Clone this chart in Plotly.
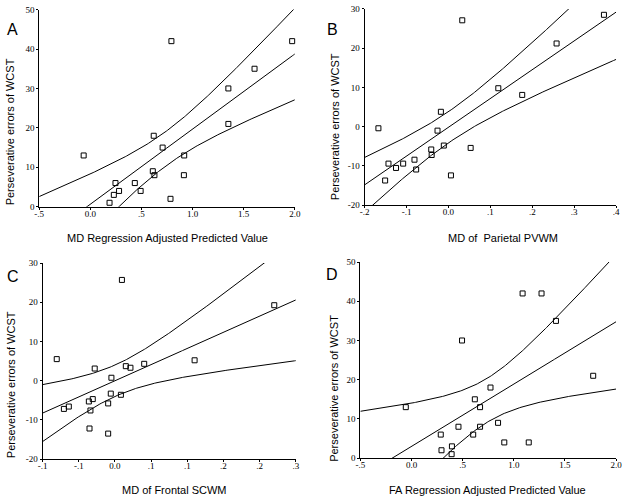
import numpy as np
import plotly.graph_objects as go

# ---- data ----
a_x = [-0.065, 0.188, 0.230, 0.246, 0.281, 0.435, 0.492, 0.611, 0.620, 0.627,
       0.707, 0.784, 0.793, 0.918, 0.915, 1.350, 1.350, 1.606, 1.974]
a_y = [13, 1, 3, 6, 4, 6, 4, 9, 18, 8, 15, 2, 42, 13, 8, 30, 21, 35, 42]

b_x = [-0.167, -0.151, -0.143, -0.125, -0.108, -0.081, -0.077, -0.041, -0.040, -0.026,
       -0.018, -0.011, 0.006, 0.033, 0.053, 0.119, 0.176, 0.258, 0.371]
b_y = [-0.4, -13.7, -9.4, -10.5, -9.4, -8.4, -10.9, -5.8, -7.2, -1.0,
       3.8, -4.8, -12.4, 27.1, -5.4, 9.8, 8.1, 21.2, 28.5]

c_x = [-0.0805, -0.0706, -0.0638, -0.0361, -0.0352, -0.0339, -0.0307, -0.0280, -0.0094, -0.0094,
       -0.0058, -0.0049, 0.0082, 0.0096, 0.0150, 0.0214, 0.0404, 0.1101, 0.2202]
c_y = [5.5, -7.2, -6.6, -5.3, -12.2, -7.6, -4.7, 3.1, -5.8, -13.5,
       -3.3, 0.75, -3.6, 25.7, 3.7, 3.3, 4.3, 5.2, 19.25]

d_x = [-0.056, 0.286, 0.293, 0.395, 0.392, 0.459, 0.494, 0.603, 0.619, 0.670,
       0.670, 0.772, 0.846, 0.907, 1.086, 1.146, 1.271, 1.412, 1.776]
d_y = [13, 6, 2, 3, 1, 8, 30, 6, 15, 13, 8, 18, 9, 4, 42, 4, 42, 35, 21]

a_xticks = [-0.5, 0.0, 0.5, 1.0, 1.5, 2.0]
a_xtext = ["-.5", "0.0", ".5", "1.0", "1.5", "2.0"]
b_xticks = [-0.2, -0.1, 0.0, 0.1, 0.2, 0.3, 0.4]
b_xtext = ["-.2", "-.1", "0.0", ".1", ".2", ".3", ".4"]
c_xticks = [-0.10, -0.05, 0.0, 0.05, 0.10, 0.15, 0.20, 0.25]
c_xtext = ["-.1", "-.1", "0.0", ".1", ".1", ".2", ".2", ".3"]
d_xticks = a_xticks
d_xtext = a_xtext
y_ticks_ad = [0, 10, 20, 30, 40, 50]
y_ticks_bc = [-20, -10, 0, 10, 20, 30]

W, H = 628, 503
SERIF = "Times New Roman, Liberation Serif, serif"
SANS = "Arial, Liberation Sans, sans-serif"

panels = [
    dict(x=a_x, y=a_y, xr=[-0.5, 2.0], yr=[0, 50], xt=a_xticks, xl=a_xtext, yt=y_ticks_ad,
         dx=[34.8, 295.0], dy=[4.7, 205.8], letter="A", lpos=(8, 25),
         xtitle="MD Regression Adjusted Predicted Value", xtpos=(165, 238), ytpos=(6, 129)),
    dict(x=b_x, y=b_y, xr=[-0.2, 0.4], yr=[-20, 30], xt=b_xticks, xl=b_xtext, yt=y_ticks_bc,
         dx=[366.0, 622.0], dy=[4.0, 204.3], letter="B", lpos=(333, 25),
         xtitle="MD of  Parietal PVWM", xtpos=(507, 238), ytpos=(335.5, 124)),
    dict(x=c_x, y=c_y, xr=[-0.10, 0.25], yr=[-20, 30], xt=c_xticks, xl=c_xtext, yt=y_ticks_bc,
         dx=[38.3, 296.0], dy=[263.3, 463.3], letter="C", lpos=(8, 277),
         xtitle="MD of Frontal SCWM", xtpos=(173, 495), ytpos=(6, 387)),
    dict(x=d_x, y=d_y, xr=[-0.5, 2.0], yr=[0, 50], xt=d_xticks, xl=d_xtext, yt=y_ticks_ad,
         dx=[361.7, 622.0], dy=[262.3, 462.3], letter="D", lpos=(333, 275),
         xtitle="FA Regression Adjusted Predicted Value", xtpos=(491, 495), ytpos=(335.5, 391)),
]

T975_17 = 2.1098

fig = go.Figure()
annotations = []
line_style = dict(color="black", width=1)

for i, p in enumerate(panels, start=1):
    xa = "x" if i == 1 else f"x{i}"
    ya = "y" if i == 1 else f"y{i}"
    x = np.array(p["x"], float)
    y = np.array(p["y"], float)
    n = len(x)
    b1, b0 = np.polyfit(x, y, 1)
    resid = y - (b0 + b1 * x)
    s = np.sqrt(np.sum(resid ** 2) / (n - 2))
    sxx = np.sum((x - x.mean()) ** 2)
    xs = np.linspace(p["xr"][0], p["xr"][1], 200)
    yh = b0 + b1 * xs
    se = s * np.sqrt(1.0 / n + (xs - x.mean()) ** 2 / sxx)
    for yy in (yh + T975_17 * se, yh, yh - T975_17 * se):
        fig.add_trace(go.Scatter(x=xs, y=yy, mode="lines", line=line_style,
                                 xaxis=xa, yaxis=ya, showlegend=False, hoverinfo="skip"))
    fig.add_trace(go.Scatter(x=x, y=y, mode="markers",
                             marker=dict(symbol="square-open", size=5, color="black",
                                         line=dict(width=1, color="black")),
                             xaxis=xa, yaxis=ya, showlegend=False, cliponaxis=False))

    common = dict(showline=True, linecolor="black", linewidth=1, ticks="outside",
                  ticklen=2, tickcolor="black", tickwidth=1, showgrid=False, zeroline=False,
                  tickfont=dict(family=SERIF, size=9, color="black"))
    xkey = "xaxis" if i == 1 else f"xaxis{i}"
    ykey = "yaxis" if i == 1 else f"yaxis{i}"
    fig.update_layout({
        xkey: dict(domain=[p["dx"][0] / W, p["dx"][1] / W], range=p["xr"], anchor=ya,
                   tickmode="array", tickvals=p["xt"], ticktext=p["xl"],
                   ticklabelstandoff=-4, **common),
        ykey: dict(domain=[1 - p["dy"][1] / H, 1 - p["dy"][0] / H], range=p["yr"], anchor=xa,
                   tickmode="array", tickvals=p["yt"], ticktext=[str(v) for v in p["yt"]],
                   **common),
    })
    base = dict(xref="paper", yref="paper", showarrow=False, xanchor="center", yanchor="middle")
    annotations.append(dict(text=p["letter"], x=p["lpos"][0] / W, y=1 - p["lpos"][1] / H,
                            font=dict(family=SANS, size=16, color="black"), **base))
    annotations.append(dict(text=p["xtitle"], x=p["xtpos"][0] / W, y=1 - p["xtpos"][1] / H,
                            font=dict(family=SANS, size=11, color="black"), **base))
    annotations.append(dict(text="Perseverative errors of WCST", x=p["ytpos"][0] / W,
                            y=1 - p["ytpos"][1] / H, textangle=-90,
                            font=dict(family=SANS, size=11, color="black"), **base))

fig.update_layout(width=W, height=H, margin=dict(l=0, r=0, t=0, b=0),
                  paper_bgcolor="white", plot_bgcolor="white", annotations=annotations)

fig.write_html("out.html", config={"displayModeBar": False},
               post_script="document.body.style.margin='0';document.body.style.overflow='hidden';")
